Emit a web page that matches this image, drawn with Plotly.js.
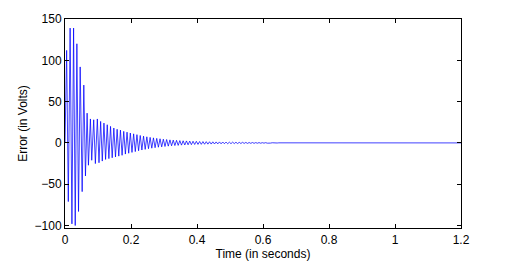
<!DOCTYPE html>
<html>
<head>
<meta charset="utf-8">
<script src="https://cdn.plot.ly/plotly-3.0.1.min.js"></script>
<style>html,body{margin:0;padding:0;background:#fff;}#chart{width:509px;height:262px;}</style>
</head>
<body>
<div id="chart"></div>
<script>
// Time (s) of each turning point of the error signal
const timeS = [
  0, 0.005, 0.010, 0.0155, 0.021, 0.026, 0.031, 0.036, 0.041, 0.046,
  0.052, 0.057, 0.062, 0.067, 0.071, 0.077, 0.081, 0.087, 0.092, 0.098,
  0.103, 0.108, 0.113, 0.118, 0.123, 0.128,
  0.133, 0.138, 0.143, 0.148, 0.153, 0.158, 0.163, 0.168, 0.173, 0.178,
  0.183, 0.188, 0.193, 0.198, 0.203, 0.208, 0.213, 0.218, 0.223, 0.228,
  0.233, 0.238, 0.243, 0.248, 0.253, 0.258, 0.263, 0.268, 0.273, 0.278,
  0.283, 0.288, 0.293, 0.298, 0.303, 0.308, 0.313, 0.318, 0.323, 0.328,
  0.333, 0.338, 0.343, 0.348, 0.353, 0.358, 0.363, 0.368, 0.373, 0.378,
  0.383, 0.388, 0.393, 0.398, 0.403, 0.408, 0.413, 0.418, 0.423, 0.428,
  0.433, 0.438, 0.443, 0.448, 0.453, 0.458, 0.463, 0.468, 0.473, 0.478,
  0.483, 0.488, 0.493, 0.498, 0.503, 0.508, 0.513, 0.518, 0.523, 0.528,
  0.533, 0.538, 0.543, 0.548, 0.553, 0.558, 0.563, 0.568, 0.573, 0.578,
  0.583, 0.588, 0.593, 0.598, 0.603, 0.608, 0.613, 0.618, 0.623, 0.628,
  0.633, 0.638, 0.643, 0.648, 1.2
];
// Error (V) at those points
const errorV = [
  0, 112, -71, 139, -98, 139, -100, 120, -83, 92,
  -59, 70, -40, 36, -27, 29, -21, 28, -25, 29,
  -24, 26, -22, 24, -20, 22,
  -19, 20, -18, 18, -17, 16.5, -16, 15.5, -15, 14,
  -13.5, 13, -12.5, 12, -11.5, 11, -10.5, 10, -9.5, 9,
  -8.6, 8.2, -7.8, 7.4, -7, 6.7, -6.4, 6.1, -5.8, 5.5,
  -5.2, 5, -4.8, 4.5, -4.3, 4.1, -3.9, 3.7, -3.5, 3.4,
  -3.2, 3.1, -3, 2.8, -2.7, 2.6, -2.5, 2.4, -2.3, 2.2,
  -2.1, 2, -1.9, 1.9, -1.8, 1.7, -1.7, 1.6, -1.6, 1.5,
  -1.5, 1.4, -1.4, 1.3, -1.3, 1.2, -1.2, 1.2, -1.1, 1.1,
  -1.0, 1.0, -1.0, 0.9, -0.9, 0.9, -0.8, 0.8, -0.8, 0.7,
  -0.7, 0.7, -0.6, 0.6, -0.6, 0.5, -0.5, 0.5, -0.5, 0.4,
  -0.4, 0.4, -0.4, 0.3, -0.3, 0.3, -0.3, 0.2, -0.2, 0.2,
  -0.2, 0.1, -0.1, 0.1, 0
];
const xTicks = [0, 0.2, 0.4, 0.6, 0.8, 1, 1.2];
const xTickText = ['0', '0.2', '0.4', '0.6', '0.8', '1', '1.2'];
const yTicks = [-100, -50, 0, 50, 100, 150];
const yTickText = ['\u2212100', '\u221250', '0', '50', '100', '150'];

const font = {family: 'Liberation Sans, Arial, sans-serif', size: 12, color: '#000'};

Plotly.newPlot('chart', [{
  x: timeS, y: errorV, type: 'scatter', mode: 'lines',
  line: {color: '#0000ff', width: 0.75}, hoverinfo: 'skip'
}], {
  width: 509, height: 262,
  margin: {l: 65, r: 48, t: 19, b: 34, pad: 0},
  paper_bgcolor: '#fff', plot_bgcolor: '#fff',
  font: font,
  showlegend: false,
  xaxis: {
    range: [0, 1.2], tickvals: xTicks, ticktext: xTickText,
    ticks: 'inside', ticklen: 4, tickwidth: 1, tickcolor: '#000',
    showline: true, linecolor: '#000', linewidth: 1, mirror: 'ticks',
    showgrid: false, zeroline: false, tickfont: font, ticklabelstandoff: 1,
    title: {text: 'Time (in seconds)', font: font, standoff: 0}
  },
  yaxis: {
    range: [-103, 150], tickvals: yTicks, ticktext: yTickText,
    ticks: 'inside', ticklen: 4, tickwidth: 1, tickcolor: '#000',
    showline: true, linecolor: '#000', linewidth: 1, mirror: 'ticks',
    showgrid: false, zeroline: false, tickfont: font,
    title: {text: 'Error (in Volts)', font: font, standoff: 4}
  }
}, {staticPlot: true, displayModeBar: false});
</script>
</body>
</html>
